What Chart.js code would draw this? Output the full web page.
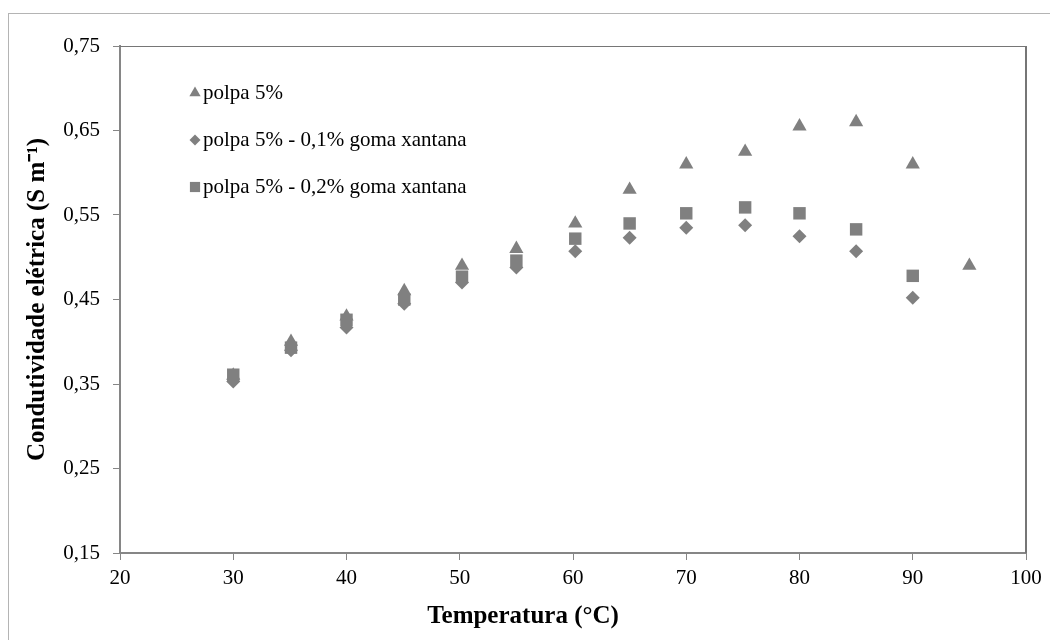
<!DOCTYPE html>
<html>
<head>
<meta charset="utf-8">
<script src="https://cdn.jsdelivr.net/npm/chart.js@4/dist/chart.umd.min.js"></script>
<style>
  body { margin: 0; background: #fff; }
  #wrap { width: 1050px; height: 640px; }
</style>
</head>
<body>
<div id="wrap"><canvas id="chart"></canvas></div>
<script>
// temperatures (°C) and conductivity (S/m)
const temperaturas = [30, 35.1, 40, 45.1, 50.2, 55, 60.2, 65, 70, 75.2, 80, 85, 90, 95];
const polpa5 = [0.36, 0.40, 0.43, 0.46, 0.49, 0.51, 0.54, 0.58, 0.61, 0.625, 0.655, 0.66, 0.61, 0.49];
const goma01 = [0.353, 0.39, 0.417, 0.445, 0.47, 0.488, 0.507, 0.523, 0.535, 0.538, 0.525, 0.507, 0.452, null];
const goma02 = [0.361, 0.393, 0.426, 0.45, 0.477, 0.496, 0.522, 0.54, 0.552, 0.559, 0.552, 0.533, 0.478, null];
const seriesNames = ["polpa 5%", "polpa 5% - 0,1% goma xantana", "polpa 5% - 0,2% goma xantana"];
const yTicks = [0.15, 0.25, 0.35, 0.45, 0.55, 0.65, 0.75];
const xTicks = [20, 30, 40, 50, 60, 70, 80, 90, 100];

const gray = "#808080";
const axisGray = "#868686";

function toPoints(ys) {
  return temperaturas
    .map((t, i) => ({ x: t, y: ys[i] }))
    .filter((p) => p.y !== null);
}

// legend drawn inside the plot, like the original
const insideLegend = {
  id: "insideLegend",
  afterDatasetsDraw(chart) {
    const ctx = chart.ctx;
    const styles = [
      { pointStyle: "triangle", radius: 6.5 },
      { pointStyle: "rectRot", radius: 5.5 },
      { pointStyle: "rect", radius: 7.2 },
    ];
    ctx.save();
    seriesNames.forEach((name, i) => {
      const y = 93 + i * 47;
      ctx.fillStyle = gray;
      ctx.strokeStyle = gray;
      Chart.helpers.drawPoint(ctx, { pointStyle: styles[i].pointStyle, radius: styles[i].radius, borderWidth: 0, rotation: 0 }, 195, y);
      ctx.fillStyle = "#000";
      ctx.font = "21px 'Liberation Serif', 'Times New Roman', serif";
      ctx.textAlign = "left";
      ctx.textBaseline = "middle";
      ctx.fillText(name, 203, y);
    });
    ctx.restore();
  },
};

// white page, outer frame and plot-area frame (top / right)
const frames = {
  id: "frames",
  beforeDraw(chart) {
    const ctx = chart.ctx;
    ctx.save();
    ctx.fillStyle = "#fff";
    ctx.fillRect(0, 0, chart.width, chart.height);
    ctx.strokeStyle = "#b4b4b4";
    ctx.lineWidth = 1;
    ctx.strokeRect(8.5, 13.5, 1100, 700);
    ctx.restore();
  },
  beforeDatasetsDraw(chart) {
    const { ctx, chartArea: a } = chart;
    ctx.save();
    ctx.strokeStyle = "#767676";
    ctx.lineWidth = 1;
    ctx.beginPath();
    ctx.moveTo(a.left, a.top + 0.5);
    ctx.lineTo(a.right, a.top + 0.5);
    ctx.stroke();
    ctx.lineWidth = 2;
    ctx.beginPath();
    ctx.moveTo(a.right, a.top);
    ctx.lineTo(a.right, a.bottom);
    ctx.stroke();
    ctx.restore();
  },
};

document.addEventListener("DOMContentLoaded", () => {
  const ctx = document.getElementById("chart").getContext("2d");

  const data = {
    datasets: [
      {
        label: seriesNames[0],
        data: toPoints(polpa5),
        pointStyle: "triangle",
        pointRadius: 8.2,
        backgroundColor: gray,
        borderColor: gray,
        borderWidth: 0,
        order: 3,
      },
      {
        label: seriesNames[1],
        data: toPoints(goma01),
        pointStyle: "rectRot",
        pointRadius: 7,
        backgroundColor: gray,
        borderColor: gray,
        borderWidth: 0,
        order: 2,
      },
      {
        label: seriesNames[2],
        data: toPoints(goma02),
        pointStyle: "rect",
        pointRadius: 8.8,
        backgroundColor: gray,
        borderColor: gray,
        borderWidth: 0,
        order: 1,
      },
    ],
  };

  const tickFont = { family: "'Liberation Serif', 'Times New Roman', serif", size: 21 };
  const titleFont = { family: "'Liberation Serif', 'Times New Roman', serif", size: 25, weight: "bold", lineHeight: 1.2 };

  const config = {
    type: "scatter",
    data: data,
    options: {
      responsive: true,
      maintainAspectRatio: false,
      animation: false,
      layout: {
        padding: { left: 20, right: 24, top: 46, bottom: 0 },
      },
      plugins: {
        legend: { display: false },
        tooltip: { enabled: false },
        title: {
          display: true,
          position: "bottom",
          text: "Temperatura (°C)",
          color: "#000",
          font: titleFont,
          padding: { top: 0, bottom: 8 },
        },
      },
      scales: {
        x: {
          type: "linear",
          min: xTicks[0],
          max: xTicks[xTicks.length - 1],
          afterFit: (scale) => {
            scale.height = 49;
          },
          afterBuildTicks: (scale) => {
            scale.ticks = xTicks.map((v) => ({ value: v }));
          },
          ticks: {
            color: "#000",
            font: tickFont,
            padding: 6,
            maxRotation: 0,
            callback: (v) => String(v),
          },
          grid: {
            drawOnChartArea: false,
            drawTicks: true,
            tickLength: 7,
            color: axisGray,
            lineWidth: 1,
          },
          border: { color: axisGray, width: 2 },
        },
        y: {
          type: "linear",
          min: yTicks[0],
          max: yTicks[yTicks.length - 1],
          afterFit: (scale) => {
            scale.width = 100;
          },
          afterBuildTicks: (scale) => {
            scale.ticks = yTicks.map((v) => ({ value: v }));
          },
          ticks: {
            color: "#000",
            font: tickFont,
            padding: 13,
            callback: (v) => v.toFixed(2).replace(".", ","),
          },
          grid: {
            drawOnChartArea: false,
            drawTicks: true,
            tickLength: 7,
            color: axisGray,
            lineWidth: 1,
          },
          border: { color: axisGray, width: 2 },
          title: {
            display: true,
            text: "Condutividade elétrica (S m⁻¹)",
            color: "#000",
            font: titleFont,
            padding: { top: 3, bottom: 0 },
          },
        },
      },
    },
    plugins: [frames, insideLegend],
  };

  const chart = new Chart(ctx, config);
});
</script>
</body>
</html>
